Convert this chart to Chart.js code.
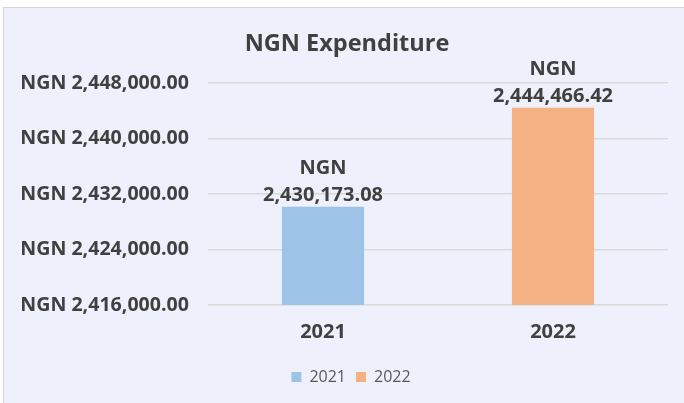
<!DOCTYPE html>
<html>
<head>
<meta charset="utf-8">
<script src="https://cdn.jsdelivr.net/npm/chart.js@4.4.1/dist/chart.umd.min.js"></script>
<style>
  html, body { margin: 0; padding: 0; background: #ffffff; }
  #frame {
    position: absolute; left: 3px; top: 7px; width: 690px; height: 410px;
    background: #eef1fb; border: 1px solid #d6d6d6;
  }
  #wrap { position: absolute; left: 0; top: 0; width: 684px; height: 403px; }
</style>
</head>
<body>
<div id="frame"></div>
<div id="wrap"><canvas id="chartExpenditure" width="684" height="403"></canvas></div>
<script>
// chart data
const categories = ['2021', '2022'];
const seriesNames = ['2021', '2022'];
const expenditure = [2430173.08, 2444466.42];
const yTicks = [2416000, 2424000, 2432000, 2440000, 2448000];

const BAR_COLORS = ['#9dc3e6', '#f4b183'];
const TEXT = '#404040';
const FONT = '"Open Sans", "DejaVu Sans", sans-serif';

const fmt = v => v.toLocaleString('en-US', { minimumFractionDigits: 2, maximumFractionDigits: 2 });

// one dataset per year so the legend shows both
const datasets = seriesNames.map((name, i) => ({
  label: name,
  data: categories.map((c, j) => (j === i ? expenditure[i] : null)),
  backgroundColor: BAR_COLORS[i],
  borderWidth: 0,
  grouped: false,
  categoryPercentage: 1,
  barPercentage: 0.357
}));

/**
 * Two-line value labels above each bar
 */
const valueLabels = {
  id: 'valueLabels',
  afterDatasetsDraw(chart) {
    const ctx = chart.ctx;
    ctx.save();
    ctx.fillStyle = TEXT;
    ctx.font = 'bold 20px ' + FONT;
    ctx.textAlign = 'center';
    ctx.textBaseline = 'middle';
    chart.data.datasets.forEach((ds, i) => {
      const meta = chart.getDatasetMeta(i);
      meta.data.forEach((bar, j) => {
        if (ds.data[j] == null) return;
        ctx.fillText('NGN', bar.x, bar.y - 38);
        ctx.fillText(fmt(ds.data[j]), bar.x, bar.y - 11);
      });
    });
    ctx.restore();
  }
};

// nudge title and legend a little right, like the original
const shiftBoxes = {
  id: 'shiftBoxes',
  afterLayout(chart) {
    if (chart.titleBlock) { chart.titleBlock.left += 13; chart.titleBlock.right += 13; }
    if (chart.legend) { chart.legend.left += 17; chart.legend.right += 17; }
  }
};

new Chart(document.getElementById('chartExpenditure'), {
  type: 'bar',
  data: { labels: categories, datasets },
  plugins: [shiftBoxes, valueLabels],
  options: {
    responsive: false,
    animation: false,
    layout: { padding: { left: 0, right: 16, top: 0, bottom: 8 } },
    plugins: {
      title: {
        display: true,
        text: 'NGN Expenditure',
        color: TEXT,
        font: { family: FONT, size: 23.5, weight: 'bold' },
        padding: { top: 30, bottom: 25 }
      },
      legend: {
        position: 'bottom',
        labels: {
          color: '#595959',
          font: { family: FONT, size: 16 },
          boxWidth: 10,
          boxHeight: 10,
          padding: 10
        }
      },
      tooltip: { enabled: false }
    },
    scales: {
      x: {
        grid: { display: false, drawTicks: false },
        border: { display: false },
        ticks: {
          color: TEXT,
          font: { family: FONT, size: 20, weight: 'bold' },
          padding: 15
        },
        afterFit(scale) { scale.height = 54; }
      },
      y: {
        min: yTicks[0],
        max: yTicks[yTicks.length - 1],
        afterBuildTicks(scale) { scale.ticks = yTicks.map(v => ({ value: v })); },
        grid: { color: '#d9d9d9', lineWidth: 1.5, drawTicks: false },
        border: { display: false },
        ticks: {
          color: TEXT,
          font: { family: FONT, size: 19.6, weight: 'bold' },
          padding: 19,
          callback: v => 'NGN ' + fmt(v)
        },
        afterFit(scale) { scale.width = 208; }
      }
    }
  }
});
</script>
</body>
</html>
